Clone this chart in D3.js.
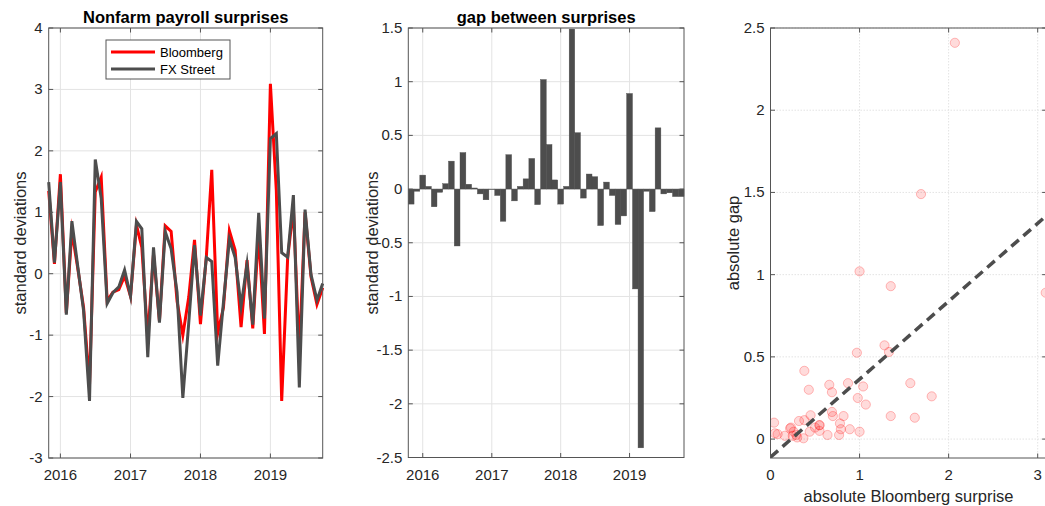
<!DOCTYPE html>
<html>
<head>
<meta charset="utf-8">
<script src="https://cdn.jsdelivr.net/npm/d3@7"></script>
<style>
  html, body { margin: 0; padding: 0; background: #fff; }
  svg { display: block; font-family: "Liberation Sans", Arial, Helvetica, sans-serif; }
</style>
</head>
<body>
<svg id="chart" width="1045" height="506"></svg>
<script>
// ---------------- DATA ----------------
// Monthly surprises, Nov 2015 .. Oct 2019 (48 months)
const firstMonth = new Date(2015, 10, 1);
const lastMonth = new Date(2019, 9, 1);
const bloomberg = [1.35, 0.16, 1.62, -0.64, 0.69, 0.08, -0.55, -1.81, 1.33, 1.57, -0.44, -0.30,
  -0.26, -0.04, -0.37, 0.79, 0.43, -1.04, 0.32, -0.77, 0.78, 0.69, -0.45, -1.00,
  -0.38, 0.55, -0.82, 0.29, 1.69, -0.97, -0.55, 0.70, 0.38, -0.87, 0.22, -0.89,
  0.66, -0.98, 3.09, 1.35, -2.07, 0.25, 1.07, -1.28, 1.00, -0.05, -0.50, -0.23];
const fxStreet = [1.49, 0.18, 1.49, -0.665, 0.855, 0.11, -0.60, -2.07, 1.86, 1.23, -0.485, -0.31,
  -0.215, 0.06, -0.365, 0.85, 0.73, -1.36, 0.43, -0.795, 0.685, 0.405, -0.305, -2.02,
  -0.795, 0.465, -0.68, 0.265, 0.20, -1.495, -0.466, 0.56, 0.265, -0.53, 0.155, -0.83,
  0.99, -0.73, 2.20, 2.28, 0.34, 0.27, 1.28, -1.85, 1.045, -0.015, -0.43, -0.16];
const seriesNames = ["Bloomberg", "FX Street"];
const yearTicks = [2016, 2017, 2018, 2019];
const leftYTicks = [-3, -2, -1, 0, 1, 2, 3, 4];
const midYTicks = [-2.5, -2, -1.5, -1, -0.5, 0, 0.5, 1, 1.5];
const scatXTicks = [0, 1, 2, 3];
const scatYTicks = [0, 0.5, 1, 1.5, 2, 2.5];
// fitted line of |gap| on |Bloomberg surprise|
const fitIntercept = -0.11;
const fitSlope = 0.474;
const titles = ["Nonfarm payroll surprises", "gap between surprises"];
const yLabels = ["standard deviations", "standard deviations", "absolute gap"];
const xLabelScatter = "absolute Bloomberg surprise";

// ---------------- DERIVED ----------------
const months = d3.timeMonth.range(firstMonth, d3.timeMonth.offset(lastMonth, 1));
const rows = months.map((d, i) => ({ date: d, b: bloomberg[i], f: fxStreet[i], gap: bloomberg[i] - fxStreet[i] }));

// ---------------- STYLE ----------------
const RED = "#ff0000", DARK = "#4d4d4d", AXIS = "#555", GRID = "#e3e3e3";
const TICKFONT = 15, LABELFONT = 16.5, TICKLEN = 4.5;
const svg = d3.select("#chart");

function panelFrame(g, x, y, xTicks, yTicks, xFmt, yFmt, gridDash) {
  const [x0, x1] = x.range(), [y0, y1] = [y.range()[1], y.range()[0]];
  // grid
  const grid = g.append("g");
  xTicks.forEach(t => grid.append("line").attr("x1", x(t)).attr("x2", x(t)).attr("y1", y0).attr("y2", y1)
    .attr("stroke", GRID).attr("stroke-width", 1).attr("stroke-dasharray", gridDash || null));
  yTicks.forEach(t => grid.append("line").attr("x1", x0).attr("x2", x1).attr("y1", y(t)).attr("y2", y(t))
    .attr("stroke", GRID).attr("stroke-width", 1).attr("stroke-dasharray", gridDash || null));
  return { x0, x1, y0, y1 };
}

function panelAxes(g, x, y, xTicks, yTicks, xFmt, yFmt) {
  const [x0, x1] = x.range(), y0 = y.range()[1], y1 = y.range()[0];
  const a = g.append("g");
  a.append("rect").attr("x", x0).attr("y", y0).attr("width", x1 - x0).attr("height", y1 - y0)
    .attr("fill", "none").attr("stroke", AXIS).attr("stroke-width", 1);
  xTicks.forEach(t => {
    a.append("line").attr("x1", x(t)).attr("x2", x(t)).attr("y1", y1).attr("y2", y1 - TICKLEN).attr("stroke", AXIS);
    a.append("line").attr("x1", x(t)).attr("x2", x(t)).attr("y1", y0).attr("y2", y0 + TICKLEN).attr("stroke", AXIS);
    a.append("text").attr("x", x(t)).attr("y", y1 + 22).attr("text-anchor", "middle")
      .attr("font-size", TICKFONT).attr("fill", "#262626").text(xFmt(t));
  });
  yTicks.forEach(t => {
    a.append("line").attr("x1", x0).attr("x2", x0 + TICKLEN).attr("y1", y(t)).attr("y2", y(t)).attr("stroke", AXIS);
    a.append("line").attr("x1", x1).attr("x2", x1 - TICKLEN).attr("y1", y(t)).attr("y2", y(t)).attr("stroke", AXIS);
    a.append("text").attr("x", x0 - 6).attr("y", y(t) + 5).attr("text-anchor", "end")
      .attr("font-size", TICKFONT).attr("fill", "#262626").text(yFmt(t));
  });
}

function yLabel(text, xb, yc) {
  svg.append("text").attr("transform", `translate(${xb},${yc}) rotate(-90)`).attr("text-anchor", "middle")
    .attr("font-size", LABELFONT).attr("fill", "#262626").text(text);
}
function title(text, xc) {
  svg.append("text").attr("x", xc).attr("y", 23).attr("text-anchor", "middle")
    .attr("font-size", LABELFONT).attr("font-weight", "bold").attr("fill", "#000").text(text);
}
const numFmt = v => (v < 0 ? "-" : "") + String(Math.abs(v));
const yearDate = yr => new Date(yr, 0, 1);

// ---------------- PANEL 1: lines ----------------
{
  const x = d3.scaleTime().domain([firstMonth, lastMonth]).range([48.7, 322.7]);
  const y = d3.scaleLinear().domain([-3, 4]).range([458, 28]);
  const g = svg.append("g");
  const xt = yearTicks.map(yearDate);
  panelFrame(g, x, y, xt, leftYTicks);
  const line = key => d3.line().x(d => x(d.date)).y(d => y(d[key]));
  g.append("path").datum(rows).attr("d", line("b")).attr("fill", "none").attr("stroke", RED)
    .attr("stroke-width", 3).attr("stroke-linejoin", "miter").attr("stroke-miterlimit", 10);
  g.append("path").datum(rows).attr("d", line("f")).attr("fill", "none").attr("stroke", DARK)
    .attr("stroke-width", 3).attr("stroke-linejoin", "miter").attr("stroke-miterlimit", 10);
  panelAxes(g, x, y, xt, leftYTicks, d => d.getFullYear(), numFmt);
  // legend
  const lg = g.append("g");
  lg.append("rect").attr("x", 106).attr("y", 40).attr("width", 124).attr("height", 39)
    .attr("fill", "#fff").attr("stroke", AXIS).attr("stroke-width", 1);
  [[RED, seriesNames[0], 52], [DARK, seriesNames[1], 69]].forEach(([c, n, yy]) => {
    lg.append("line").attr("x1", 111).attr("x2", 155).attr("y1", yy).attr("y2", yy).attr("stroke", c).attr("stroke-width", 3);
    lg.append("text").attr("x", 160).attr("y", yy + 4.5).attr("font-size", 13).attr("fill", "#000").text(n);
  });
  title(titles[0], 185.7);
  yLabel(yLabels[0], 26, 243);
}

// ---------------- PANEL 2: bars ----------------
{
  const halfMonthBefore = new Date(firstMonth.getTime() - 15.5 * 864e5);
  const halfMonthAfter = new Date(lastMonth.getTime() + 15.5 * 864e5);
  const x = d3.scaleTime().domain([halfMonthBefore, halfMonthAfter]).range([408.3, 684]);
  const y = d3.scaleLinear().domain([-2.5, 1.5]).range([457.5, 28]);
  const g = svg.append("g");
  const xt = yearTicks.map(yearDate);
  panelFrame(g, x, y, xt, midYTicks);
  const edges = rows.map((r, i) => {
    const prev = i > 0 ? rows[i - 1].date : null, next = i < rows.length - 1 ? rows[i + 1].date : null;
    const l = prev ? new Date((prev.getTime() + r.date.getTime()) / 2) : halfMonthBefore;
    const rr = next ? new Date((next.getTime() + r.date.getTime()) / 2) : halfMonthAfter;
    return [x(l), x(rr)];
  });
  g.append("g").selectAll("rect").data(rows).join("rect")
    .attr("x", (d, i) => edges[i][0]).attr("width", (d, i) => edges[i][1] - edges[i][0])
    .attr("y", d => y(Math.max(0, d.gap))).attr("height", d => Math.abs(y(d.gap) - y(0)))
    .attr("fill", DARK).attr("stroke", DARK).attr("stroke-width", 0.4);
  panelAxes(g, x, y, xt, midYTicks, d => d.getFullYear(), numFmt);
  title(titles[1], 546.2);
  yLabel(yLabels[1], 378, 243);
}

// ---------------- PANEL 3: scatter ----------------
{
  const x = d3.scaleLinear().domain([0, 3.1]).range([770.5, 1046.6]);
  const y = d3.scaleLinear().domain([-0.115, 2.5]).range([458, 28]);
  const g = svg.append("g");
  panelFrame(g, x, y, scatXTicks, scatYTicks, null, null, "1.5,1.5");
  svg.append("clipPath").attr("id", "clip3").append("rect")
    .attr("x", 770.5).attr("y", 28).attr("width", 276.1).attr("height", 430);
  const inner = g.append("g").attr("clip-path", "url(#clip3)");
  inner.selectAll("circle").data(rows).join("circle")
    .attr("cx", d => x(Math.abs(d.b))).attr("cy", d => y(Math.abs(d.gap))).attr("r", 4.6)
    .attr("fill", RED).attr("fill-opacity", 0.14).attr("stroke", RED).attr("stroke-opacity", 0.25).attr("stroke-width", 1);
  const xmax = x.domain()[1];
  inner.append("line").attr("x1", x(0)).attr("y1", y(fitIntercept)).attr("x2", x(xmax)).attr("y2", y(fitIntercept + fitSlope * xmax))
    .attr("stroke", DARK).attr("stroke-width", 3.5).attr("stroke-dasharray", "10,6");
  panelAxes(g, x, y, scatXTicks, scatYTicks, numFmt, numFmt);
  svg.append("text").attr("x", 908.5).attr("y", 502).attr("text-anchor", "middle")
    .attr("font-size", LABELFONT).attr("fill", "#262626").text(xLabelScatter);
  yLabel(yLabels[2], 739, 243);
}
</script>
</body>
</html>
